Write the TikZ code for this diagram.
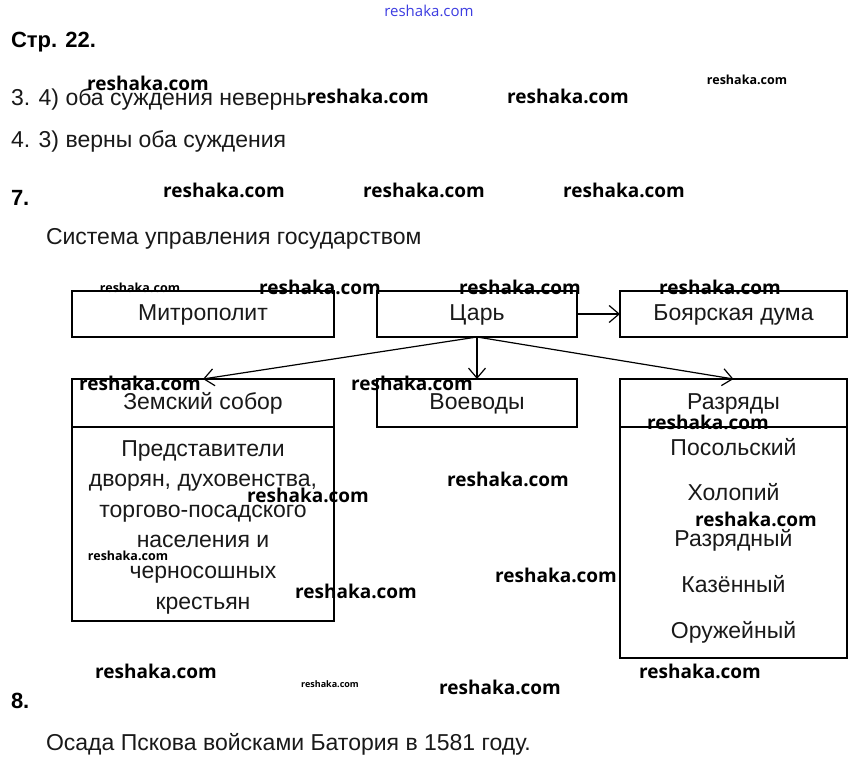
\documentclass[tikz,border=0pt]{standalone}
\usepackage{fontspec}
\setmainfont{Liberation Sans}
\newfontfamily\wmfont{Open Sans}
\usetikzlibrary{arrows.meta}
\definecolor{wmblue}{RGB}{60,60,225}
\definecolor{ink}{RGB}{25,25,25}
\begin{document}
\begin{tikzpicture}[x=1pt,y=-1pt,
  every node/.style={inner sep=0pt, outer sep=0pt},
  box/.style={draw, line width=1.5pt, text=ink, font=\fontsize{23}{27}\selectfont, text height=17pt, text depth=4pt},
  bodyline/.style={anchor=base, text=ink, font=\fontsize{23}{27}\selectfont},
  conn/.style={line width=1.2pt, -{Straight Barb[length=10pt,width=17pt]}},
  plain/.style={anchor=base west, text=ink, font=\fontsize{23}{27}\selectfont},
  headline/.style={anchor=base west, font=\fontsize{22}{26}\selectfont\bfseries},
  wm/.style={font=\wmfont\bfseries\fontsize{19}{21}\selectfont},
  wms/.style={font=\wmfont\bfseries\fontsize{12.5}{14}\selectfont},
  wmxs/.style={font=\wmfont\bfseries\fontsize{9}{11}\selectfont},
]
\path[use as bounding box, fill=white] (0,0) rectangle (856,781);

% texts
\node[headline] (t1) at (11,48) {Стр. 22.};
\node[plain] (t2) at (11,106) {3. 4) оба суждения неверны};
\node[plain] (t3) at (11,147) {4. 3) верны оба суждения};
\node[headline] (t4) at (11,205) {7.};
\node[plain] (t5) at (46,244) {Система управления государством};
\node[headline] (t6) at (11,708) {8.};
\node[plain] (t7) at (46,750) {Осада Пскова войсками Батория в 1581 году.};

% boxes
\node[box, minimum width=262pt, minimum height=46pt] (metro) at (203,314) {Митрополит};
\node[box, minimum width=200pt, minimum height=46pt] (tsar) at (477,314) {Царь};
\node[box, minimum width=227pt, minimum height=46pt] (boyar) at (733.5,314) {Боярская дума};
\node[box, minimum width=262pt, minimum height=48pt] (zs) at (203,403) {Земский собор};
\node[box, minimum width=200pt, minimum height=48pt] (voev) at (477,403) {Воеводы};
\node[box, minimum width=227pt, minimum height=48pt] (rz) at (733.5,403) {Разряды};
\node[box, minimum width=262pt, minimum height=194pt] (zsbody) at (203,524) {};
\node[box, minimum width=227pt, minimum height=231pt] (rzbody) at (733.5,542.5) {};

\foreach \t [count=\i from 0] in {Представители,{дворян, духовенства,},торгово-посадского,населения и,черносошных,крестьян}
  \node[bodyline] (zl\i) at (203,456+30.6*\i) {\t};
\foreach \t [count=\i from 0] in {Посольский,Холопий,Разрядный,Казённый,Оружейный}
  \node[bodyline] (rl\i) at (733.5,455+45.8*\i) {\t};

% connectors
\draw[conn] (tsar.east) -- (boyar.west);
\draw[conn] (tsar.south) -- (zs.north);
\draw[conn] (tsar.south) -- (voev.north);
\draw[conn] (tsar.south) -- (rz.north);

% watermarks
\node[font=\wmfont\fontsize{15}{17}\selectfont, text=wmblue] (w0) at (429,11) {reshaka.com};
\node[wm] (w1) at (148,83) {reshaka.com};
\node[wm] (w2) at (368,96) {reshaka.com};
\node[wm] (w3) at (568,96) {reshaka.com};
\node[wms] (w4) at (747,80) {reshaka.com};
\node[wm] (w5) at (224,190) {reshaka.com};
\node[wm] (w6) at (424,190) {reshaka.com};
\node[wm] (w7) at (624,190) {reshaka.com};
\node[wms] (w8) at (140,288) {reshaka.com};
\node[wm] (w9) at (320,287) {reshaka.com};
\node[wm] (w10) at (520,287) {reshaka.com};
\node[wm] (w11) at (720,287) {reshaka.com};
\node[wm] (w12) at (140,383) {reshaka.com};
\node[wm] (w13) at (412,383) {reshaka.com};
\node[wm] (w14) at (708,422) {reshaka.com};
\node[wm] (w15) at (508,479) {reshaka.com};
\node[wm] (w16) at (308,495) {reshaka.com};
\node[wm] (w17) at (756,519) {reshaka.com};
\node[wms] (w18) at (128,556) {reshaka.com};
\node[wm] (w19) at (556,575) {reshaka.com};
\node[wm] (w20) at (356,591) {reshaka.com};
\node[wm] (w21) at (156,671) {reshaka.com};
\node[wmxs] (w22) at (330,684) {reshaka.com};
\node[wm] (w23) at (700,671) {reshaka.com};
\node[wm] (w24) at (500,687) {reshaka.com};
\end{tikzpicture}
\end{document}
